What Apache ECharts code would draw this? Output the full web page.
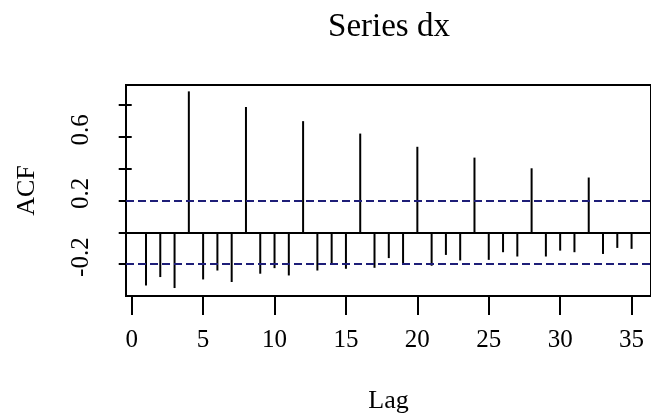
<!DOCTYPE html>
<html>
<head>
<meta charset="utf-8">
<script src="https://cdn.jsdelivr.net/npm/echarts@6/dist/echarts.min.js"></script>
<style>
  html, body { margin: 0; padding: 0; background: #fff; }
  #chart { width: 651px; height: 419px; }
</style>
</head>
<body>
<div id="chart"></div>
<script>
  // ACF of series dx
  const lags = [1, 2, 3, 4, 5, 6, 7, 8, 9, 10, 11, 12, 13, 14, 15, 16, 17, 18,
    19, 20, 21, 22, 23, 24, 25, 26, 27, 28, 29, 30, 31, 32, 33, 34, 35]
  const acfValues = [-0.334, -0.281, -0.35, 0.885, -0.296, -0.24, -0.312, 0.787,
    -0.26, -0.225, -0.271, 0.698, -0.24, -0.194, -0.229, 0.62, -0.223, -0.162,
    -0.2, 0.537, -0.21, -0.142, -0.177, 0.469, -0.173, -0.125, -0.152, 0.402,
    -0.152, -0.115, -0.125, 0.344, -0.136, -0.098, -0.104]
  const ciBound = 0.2
  const xTicks = [0, 5, 10, 15, 20, 25, 30, 35]
  const yTicks = [-0.2, 0, 0.2, 0.4, 0.6, 0.8]
  const yLabels = [-0.2, 0.2, 0.6]

  const serif = 'Liberation Serif'
  const dashStyle = { color: '#1e1e78', width: 2, type: [8, 4] }

  const option = {
    animation: false,
    title: {
      text: 'Series dx',
      left: 384,
      textAlign: 'center',
      top: 6,
      textStyle: { fontFamily: serif, fontSize: 33, fontWeight: 'normal', color: '#000' }
    },
    grid: {
      left: 126,
      right: -2,
      top: 85,
      bottom: 122,
      show: true,
      borderColor: '#000',
      borderWidth: 2,
      backgroundColor: 'transparent'
    },
    xAxis: {
      type: 'value',
      min: -0.4,
      max: 36.36,
      name: 'Lag',
      nameLocation: 'middle',
      nameGap: 92,
      nameTextStyle: { fontFamily: serif, fontSize: 26, color: '#000' },
      axisLine: { show: false, onZero: false },
      splitLine: { show: false },
      axisTick: { show: true, length: 19, lineStyle: { color: '#000', width: 2 }, customValues: xTicks },
      axisLabel: { fontFamily: serif, fontSize: 25, color: '#000', margin: 32, customValues: xTicks }
    },
    yAxis: {
      type: 'value',
      min: -0.4,
      max: 0.925,
      name: 'ACF',
      nameLocation: 'middle',
      nameGap: 86,
      nameRotate: 90,
      nameTextStyle: { fontFamily: serif, fontSize: 26, color: '#000' },
      axisLine: { show: false },
      splitLine: { show: false },
      axisTick: { show: true, length: 13, lineStyle: { color: '#000', width: 2 }, customValues: yTicks },
      axisLabel: {
        fontFamily: serif, fontSize: 25, color: '#000', margin: 32, rotate: 90,
        padding: [0, 0, 0, 14],
        customValues: yLabels,
        formatter: v => v.toFixed(1)
      }
    },
    series: [
      {
        name: 'ACF',
        type: 'bar',
        barWidth: 2,
        itemStyle: { color: '#000' },
        data: lags.map((l, i) => [l, acfValues[i]]),
        markLine: {
          silent: true,
          symbol: ['none', 'none'],
          label: { show: false },
          data: [
            { yAxis: 0, lineStyle: { color: '#000', width: 2, type: 'solid' } },
            { yAxis: ciBound, lineStyle: dashStyle },
            { yAxis: -ciBound, lineStyle: dashStyle }
          ]
        }
      }
    ]
  }

  const chart = echarts.init(document.getElementById('chart'))
  chart.setOption(option)
</script>
</body>
</html>
